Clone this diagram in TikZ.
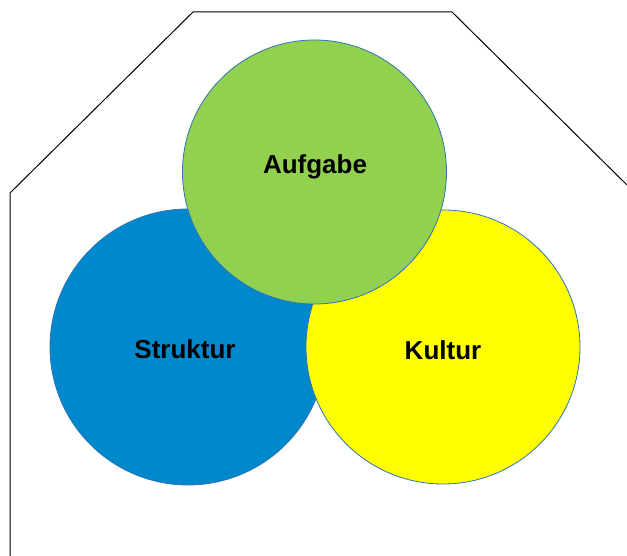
\documentclass[tikz,border=0pt]{standalone}
\usepackage{fontspec}
\setmainfont{Liberation Sans}
\definecolor{strukturblau}{HTML}{0088CC}
\definecolor{aufgabegruen}{HTML}{92D050}
\definecolor{kulturgelb}{HTML}{FFFF00}
\definecolor{randblau}{HTML}{2E75B6}
\begin{document}
\begin{tikzpicture}[x=1pt,y=1pt]
        \useasboundingbox (0,0) rectangle (627,556);
        \tikzset{kreis/.style={circle,draw=randblau,line width=0.8pt,inner sep=0pt},
                 titel/.style={font=\fontsize{26}{30}\selectfont\bfseries,inner sep=0pt}}
        % Umriss (Achteck, oben offen nach rechts)
        \draw[line width=1pt] (10,0) -- (10,363) -- (193,544) -- (452,544) -- (627,371);
        \node[kreis,fill=strukturblau,minimum size=276pt] (struktur) at (188,209) {};
        \node[kreis,fill=kulturgelb,minimum size=274pt] (kultur) at (443,209) {};
        \node[kreis,fill=aufgabegruen,minimum size=264pt] (aufgabe) at (314.5,384) {};
        \node[titel] (strukturtext) at (185,207) {Struktur};
        \node[titel] (kulturtext) at (443,206) {Kultur};
        \node[titel] (aufgabetext) at (315,389) {Aufgabe};
    \end{tikzpicture}
\end{document}
